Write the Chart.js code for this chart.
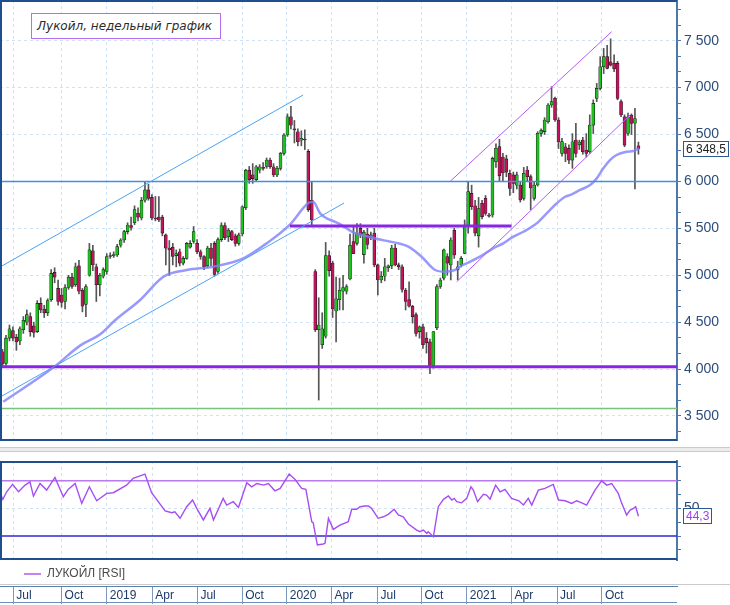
<!DOCTYPE html>
<html lang="ru">
<head>
<meta charset="utf-8">
<title>Лукойл, недельный график</title>
<script src="https://cdn.jsdelivr.net/npm/chart.js@4.4.1/dist/chart.umd.min.js"></script>
<style>
  html, body { margin: 0; padding: 0; background: #fff; }
  #page { position: relative; width: 730px; height: 605px; overflow: hidden; }
  #page > * { position: absolute; }
  #cMain { left: 0; top: 0; }
  #cRsi { left: 0; top: 456px; }
  .sep { left: 0; width: 730px; height: 1px; background: #cbcbcb; }
  #title { left: 31px; top: 13px; width: 183px; height: 24px; padding-left: 5px; border: 1px solid #b56ef0; background: #fff;
           font: italic 12px "DejaVu Sans", sans-serif; line-height: 24px; color: #2b2b2b; white-space: nowrap; }
</style>
</head>
<body>
<div id="page">
  <div class="sep" style="top:447px"></div>
  <div class="sep" style="top:448px;height:3px;background:#ececec"></div>
  <div class="sep" style="top:451px"></div>
  <div class="sep" style="top:584px"></div>
  <div style="left:0;top:602px;width:677px;height:1px;background:#6d8fbb"></div>
  <canvas id="cMain" width="730" height="441"></canvas>
  <canvas id="cRsi" width="730" height="149"></canvas>
  <div id="title">Лукойл, недельный график</div>
</div>
<script>
// weekly candles, index 0 = mid June 2018
const opens = [4185,4060,4330,4410,4340,4300,4420,4500,4560,4460,
  4400,4700,4640,4600,4740,5030,4860,4790,4720,4870,
  4980,4900,5100,4840,4690,5000,5260,5090,4900,4990,
  5040,5200,5210,5216,5320,5376,5465,5530,5560,5660,
  5610,5800,5910,5830,5610,5620,5620,5430,5290,5300,
  5210,5250,5130,5180,5300,5360,5340,5250,5200,5100,
  5290,5340,5040,5380,5530,5410,5465,5420,5340,5440,
  5720,6120,6070,6020,6120,6150,6160,6229,6157,6069,
  6140,6300,6495,6690,6560,6530,6440,6450,6320,5800,
  5040,4420,4260,4350,5210,5130,4620,4740,4830,4830,
  4960,5360,5340,5500,5220,5440,5400,5450,5110,4950,
  4990,5080,5100,5290,5110,5090,4840,4740,4670,4580,
  4400,4450,4330,4290,4040,4440,4880,4970,5200,5110,
  5480,5060,5109,5234,5518,5873,5740,5420,5767,5820,
  5640,5643,6211,6371,6260,6240,6087,6070,5960,5962,
  5820,6122,6051,5820,5962,6513,6531,6637,6815,6886,
  6655,6300,6370,6352,6228,6441,6390,6441,6335,6317,
  6601,6885,6992,7223,7330,7275,7260,7258,6850,6690,
  6512,6708,6620,6380];
const highs = [4210,4360,4470,4450,4370,4450,4560,4630,4600,4500,
  4730,4760,4680,4750,5060,5080,4950,4860,4900,5000,
  5020,5130,5160,4860,4900,5340,5320,5120,5020,5080,
  5230,5240,5250,5330,5390,5480,5560,5620,5740,5720,
  5830,5990,5970,5860,5840,5840,5640,5440,5370,5340,
  5270,5280,5200,5350,5370,5520,5380,5270,5210,5310,
  5340,5360,5400,5560,5560,5500,5480,5440,5450,5740,
  6130,6160,6190,6170,6180,6200,6250,6250,6190,6160,
  6310,6510,6720,6800,6650,6560,6540,6550,6340,6000,
  5060,4760,4600,5350,5260,5150,4980,4970,5000,4900,
  5440,5520,5550,5550,5480,5500,5460,5500,5120,5040,
  5180,5110,5320,5330,5130,5110,4860,4930,4680,4600,
  4460,4480,4390,4320,4400,4900,4970,5280,5230,5400,
  5500,5150,5200,5590,5990,5960,5800,5830,5800,5850,
  5660,6260,6400,6450,6300,6280,6120,6100,6100,6000,
  6150,6160,6070,5990,6530,6560,6680,6830,7010,6900,
  6680,6460,6406,6390,6510,6620,6440,6470,6510,6710,
  6870,7045,7330,7418,7450,7520,7350,7280,6870,6710,
  6730,6720,6780,6420];
const lows = [4030,4040,4300,4300,4200,4260,4380,4470,4350,4340,
  4390,4600,4550,4570,4720,4920,4680,4660,4640,4850,
  4860,4880,4800,4610,4560,4990,5050,4720,4780,4970,
  5010,5180,5190,5200,5300,5350,5440,5480,5540,5580,
  5590,5780,5800,5590,5580,5570,5420,5110,5000,5110,
  5090,5100,5110,5170,5290,5340,5230,5170,5060,5080,
  5100,4990,5020,5360,5380,5360,5370,5310,5320,5420,
  5700,5980,5980,6000,6090,6120,6140,6140,6050,6050,
  6120,6280,6480,6560,6410,6380,6380,6340,5680,5540,
  4400,3670,4220,4330,4990,4550,4290,4630,4630,4800,
  4950,5230,5320,5400,5130,5280,5380,5090,4790,4920,
  4940,5040,5070,5100,5060,4820,4630,4660,4490,4350,
  4330,4220,4170,3950,4010,4420,4860,4950,5000,4950,
  5180,4950,5090,5230,5450,5700,5420,5300,5600,5640,
  5620,5620,6150,6000,6000,6050,5850,5880,5920,5780,
  5800,6000,5700,5800,5950,6480,6500,6620,6790,6640,
  6350,6270,6210,6190,6140,6260,6340,6290,6260,6300,
  6510,6850,6975,7150,7200,7230,7170,6870,6690,6370,
  6490,6500,5920,6290];
const closes = [4054,4330,4430,4330,4290,4430,4520,4580,4400,4390,
  4700,4630,4600,4730,5020,4980,4720,4710,4870,4980,
  4880,5090,4830,4670,4880,5270,5110,4900,5000,5060,
  5200,5210,5220,5305,5376,5465,5536,5510,5700,5620,
  5800,5910,5820,5610,5600,5590,5450,5290,5270,5200,
  5230,5130,5180,5340,5340,5465,5250,5200,5090,5290,
  5180,5010,5380,5530,5400,5480,5380,5340,5430,5730,
  6120,6020,6030,6157,6157,6140,6229,6157,6069,6140,
  6300,6495,6690,6600,6548,6424,6460,6442,5700,5590,
  4420,4470,4430,5210,5050,4640,4750,4840,4870,4880,
  5320,5230,5450,5430,5460,5330,5430,5110,4950,4990,
  5090,5100,5290,5110,5090,4850,4720,4670,4560,4380,
  4450,4260,4280,4040,4400,4880,4950,5270,5130,5376,
  5216,5090,5180,5536,5891,5731,5450,5710,5625,5660,
  5630,6246,6353,6060,6090,6100,5926,5980,6070,5802,
  6087,6051,5930,5962,6513,6547,6655,6815,6850,6655,
  6420,6424,6300,6228,6423,6299,6420,6317,6299,6601,
  6832,6992,7223,7330,7205,7240,7200,6885,6708,6388,
  6690,6619,6670,6348.5];

// moving average (week, price)
const maWeek = [0.2,15.1,22.3,28.1,32.4,39.6,46.3,53.0,60.6,69.3,
  76.0,82.7,88.0,89.4,91.4,93.3,95.7,97.6,100.5,105.3,
  110.1,113.0,116.8,120.6,124.5,127.3,130.2,131.6,134.5,137.4,
  141.2,144.1,147.0,149.9,153.7,156.6,159.5,161.9,163.3,166.2,
  169.1,171.0,172.9,174.8,176.7,179.6,181.5,183.3];
const maVal = [3652,4030,4250,4370,4520,4736,4984,5056,5091,5180,
  5340,5540,5770,5784,5660,5607,5570,5535,5464,5411,
  5369,5348,5305,5198,5056,5038,5056,5091,5144,5198,
  5287,5340,5411,5464,5553,5660,5767,5837,5855,5909,
  5962,6033,6140,6228,6282,6317,6325,6353];

// RSI (week, value)
const rsiWeek = [-0.7,0.1,1.2,2.9,4.6,6.5,7.9,8.9,10.8,12.7,
  15.1,17.5,18.9,20.9,22.8,25.0,27.1,30.0,31.9,35.7,
  37.6,41.0,42.9,46.8,48.7,49.6,51.1,53.0,54.7,55.9,
  57.8,59.7,60.7,63.5,64.5,66.4,67.9,70.3,71.7,73.2,
  75.1,76.5,78.4,79.9,82.5,84.2,86.1,87.3,89.0,89.4,
  90.6,92.3,92.8,93.8,95.2,97.1,99.5,100.5,101.9,102.9,
  104.3,105.3,106.2,108.1,109.6,111.0,112.7,113.9,115.3,116.8,
  119.2,120.1,121.1,122.1,122.5,124.0,125.4,126.9,128.3,129.3,
  130.0,130.7,132.1,133.6,134.8,135.5,136.7,138.4,139.3,140.3,
  141.9,143.2,144.6,146.5,148.6,149.9,151.3,152.3,154.2,156.1,
  158.5,160.0,161.9,163.8,165.2,166.7,168.1,170.5,172.4,173.9,
  175.3,177.2,178.2,179.6,180.6,181.6,182.2,183.0];
const rsiVal = [60.8,56.5,62.0,67.3,62.0,66.8,69.2,58.9,68.0,63.2,
  72.4,58.4,63.7,68.0,53.6,65.6,55.5,60.8,61.3,66.8,
  71.7,74.8,61.3,48.1,46.8,47.5,42.8,51.2,56.0,50.0,
  41.6,50.0,41.6,57.2,52.4,54.8,50.7,68.5,65.6,68.0,
  66.8,68.0,62.7,64.4,74.8,70.9,64.4,63.7,40.3,39.6,
  23.5,24.2,24.7,42.8,34.8,37.9,40.3,49.3,49.3,51.2,
  51.7,51.7,50.0,42.8,43.9,45.7,49.3,45.2,43.9,38.7,
  34.3,33.1,34.3,31.9,33.1,29.5,51.2,56.5,58.9,56.0,
  57.2,54.8,54.0,57.2,65.6,63.2,54.8,60.1,59.6,56.7,
  66.8,62.0,63.7,57.2,55.5,52.4,57.2,52.4,63.2,64.4,
  67.3,56.0,55.5,53.6,55.5,54.0,52.4,63.2,69.9,66.8,
  68.0,60.8,53.6,45.2,48.8,50.0,51.2,44.3];

// time axis
const quarterPos = [3.1,17.0,30.0,43.1,56.1,69.0,81.8,94.7,107.9,120.6,133.6,146.5,159.6,172.5];
const quarterLabels = ['Jul','Oct','2019','Apr','Jul','Oct','2020','Apr','Jul','Oct','2021','Apr','Jul','Oct'];
const priceLabels = [3500,4000,4500,5000,5500,6000,6500,7000,7500];
const rsiTicks = [20,30,40,50,60,70,80];
const rsiLabelled = [50];

// drawn lines (week, price)
const blueUpper = [[-0.7,5088],[86.5,6921]];
const blueLower = [[-0.7,3702],[98.3,5770]];
const violetUpper = [[128.8,6000],[175.3,7596]];
const violetLower = [[130.7,4931],[180.6,6708]];
const resistance = [[82.7,5525],[146.5,5525]];
const levelBlue = 6000, levelSupport = 4025, levelGreen = 3580;
const rsiHigh = 70, rsiLow = 30;

const X_MIN = -0.72, X_MAX = 194.1;
const P_MIN = 3233.5, P_MAX = 7934;
const R_MIN = 12.64, R_MAX = 84.25;

const UP = '#1ec21e', DOWN = '#c2145c';
const GRID = '#cfe2f6', AXIS = '#4e78a8', AXIS_TXT = '#2c4d7c';
Chart.defaults.font.family = '"Liberation Sans", Arial, sans-serif';

function fmt(v, dec) {
  const parts = v.toFixed(dec).split('.');
  parts[0] = parts[0].replace(/\B(?=(\d{3})+(?!\d))/g, ' ');
  return parts.join(',');
}
const flat = v => [[X_MIN, v], [X_MAX, v]];
function seg(points, color, width, order) {
  return { type: 'line', data: points.map(p => ({x: p[0], y: p[1]})), borderColor: color, borderWidth: width,
           pointRadius: 0, fill: false, tension: 0, order: order };
}

// minor ticks every 1/3 of 500
const priceTicks = [];
for (let k = 20; k <= 47; k++) priceTicks.push(k * 500 / 3);

const frame = {
  id: 'frame',
  afterDatasetsDraw(chart) {
    const {ctx, chartArea: a} = chart;
    ctx.save();
    ctx.strokeStyle = '#1e4f8e';
    ctx.lineWidth = 2;
    ctx.beginPath();
    ctx.moveTo(a.right, a.top + 1);
    ctx.lineTo(a.left + 1, a.top + 1);
    ctx.lineTo(a.left + 1, a.bottom - 1);
    ctx.lineTo(a.right, a.bottom - 1);
    ctx.stroke();
    ctx.restore();
  }
};

const lastValue = {
  id: 'lastValue',
  afterDraw(chart, args, o) {
    if (o.value == null) return;
    const ctx = chart.ctx;
    const y = Math.round(chart.scales.y.getPixelForValue(o.value));
    const x = chart.chartArea.right + 6;
    ctx.save();
    ctx.font = '12px "Liberation Sans", Arial, sans-serif';
    const w = Math.round(ctx.measureText(o.text).width) + 5;
    ctx.fillStyle = '#fff';
    ctx.fillRect(x, y - 8, w, 16);
    ctx.strokeStyle = '#2b5a93';
    ctx.lineWidth = 1;
    ctx.strokeRect(x + 0.5, y - 7.5, w, 15);
    ctx.fillStyle = o.color;
    ctx.textBaseline = 'middle';
    ctx.fillText(o.text, x + 3, y + 1);
    ctx.restore();
  }
};

const legendNudge = {
  id: 'legendNudge',
  afterLayout(chart) {
    const l = chart.legend;
    if (l) { l.left += 20; l.right += 20; l.top += 4; l.bottom += 4; }
  }
};

const wickData = highs.map((h, i) => ({x: i, y: [lows[i], h]}));
const bodyData = opens.map((o, i) => ({x: i, y: [o, closes[i]]}));
const bodyColors = opens.map((o, i) => closes[i] >= o ? UP : DOWN);

new Chart(document.getElementById('cMain'), {
  type: 'bar',
  data: {
    datasets: [
      seg(blueUpper, '#4aa3f5', 1, 0),
      seg(blueLower, '#4aa3f5', 1, 0),
      seg(violetUpper, '#b25cf6', 1, 0),
      seg(violetLower, '#b25cf6', 1, 0),
      seg(flat(levelBlue), '#3f8fe6', 1.5, 0),
      seg(flat(levelSupport), '#8a24e6', 3, 0),
      seg(flat(levelGreen), '#79c279', 1.5, 0),
      seg(resistance, '#8a24e6', 3, 0),
      { type: 'line', data: maWeek.map((w, i) => ({x: w, y: maVal[i]})), borderColor: 'rgba(128,128,250,0.8)',
        borderWidth: 2.5, pointRadius: 0, cubicInterpolationMode: 'monotone', fill: false, order: 1 },
      { type: 'bar', data: bodyData, backgroundColor: bodyColors, borderColor: '#1b1b1b', borderWidth: 0.6,
        borderSkipped: false, barThickness: 3, grouped: false, minBarLength: 1, order: 2 },
      { type: 'bar', data: wickData, backgroundColor: '#555', borderWidth: 0, barThickness: 1, grouped: false, order: 3 }
    ]
  },
  options: {
    animation: false,
    responsive: false,
    layout: { padding: 0 },
    plugins: {
      legend: { display: false },
      tooltip: { enabled: false },
      lastValue: { value: closes[closes.length - 1], text: fmt(closes[closes.length - 1], 1), color: '#222' }
    },
    scales: {
      x: {
        type: 'linear', bounds: 'data', min: X_MIN, max: X_MAX, offset: false,
        afterBuildTicks: s => { s.ticks = quarterPos.map(v => ({value: v})); },
        ticks: { display: false },
        grid: { color: GRID, lineWidth: 1, drawTicks: false, offset: false },
        border: { display: false, dash: [3, 3] },
        afterFit: s => { s.height = 0; s.paddingLeft = 0; s.paddingRight = 0; }
      },
      y: {
        position: 'right', bounds: 'data', min: P_MIN, max: P_MAX, beginAtZero: false,
        afterBuildTicks: s => { s.ticks = priceTicks.map(v => ({value: v})); },
        ticks: { autoSkip: false, padding: 3, color: AXIS_TXT, font: { size: 14 },
                 callback: v => priceLabels.includes(v) ? fmt(v, 0) : '' },
        grid: { color: c => (c.tick && priceLabels.includes(c.tick.value)) ? GRID : 'rgba(0,0,0,0)',
                drawTicks: true, tickLength: 4, tickColor: AXIS, tickWidth: 1 },
        border: { display: true, color: AXIS, width: 2, dash: [3, 3] },
        afterFit: s => { s.width = 53; s.paddingTop = 0; s.paddingBottom = 0; }
      }
    }
  },
  plugins: [frame, lastValue]
});

new Chart(document.getElementById('cRsi'), {
  type: 'line',
  data: {
    datasets: [
      { label: 'ЛУКОЙЛ [RSI]', data: rsiWeek.map((w, i) => ({x: w, y: rsiVal[i]})), borderColor: '#a64ef3',
        borderWidth: 1.4, pointRadius: 0, tension: 0, fill: false },
      Object.assign(seg(flat(rsiHigh), '#b87af2', 1.5, 1), { label: 'hi' }),
      Object.assign(seg(flat(rsiLow), '#2a2ad6', 1.5, 1), { label: 'lo' })
    ]
  },
  options: {
    animation: false,
    responsive: false,
    layout: { padding: { top: 5, left: 0, right: 0, bottom: 0 } },
    plugins: {
      legend: {
        position: 'bottom', align: 'start', weight: 0,
        labels: { filter: it => it.datasetIndex === 0, usePointStyle: true, pointStyle: 'line', pointStyleWidth: 17,
                  padding: 4, color: '#4a4a4a', font: { size: 12 } }
      },
      tooltip: { enabled: false },
      lastValue: { value: rsiVal[rsiVal.length - 1], text: fmt(rsiVal[rsiVal.length - 1], 1), color: '#9d3ef0' }
    },
    scales: {
      x: {
        type: 'linear', bounds: 'data', min: X_MIN, max: X_MAX, offset: false, position: 'bottom', weight: 10,
        afterBuildTicks: s => { s.ticks = quarterPos.map(v => ({value: v})); },
        ticks: { autoSkip: false, maxRotation: 0, minRotation: 0, align: 'start', labelOffset: 3, padding: -16,
                 color: '#1b3a6b', font: { size: 12 }, callback: (v, i) => quarterLabels[i] },
        grid: { color: GRID, lineWidth: 1, drawTicks: true, tickLength: 18, tickColor: '#7b98bf', tickWidth: 1,
                tickBorderDash: [], offset: false },
        border: { display: true, color: '#5a80b0', width: 1, dash: [3, 3] },
        afterFit: s => { s.height = 19; s.paddingLeft = 0; s.paddingRight = 0; }
      },
      y: {
        position: 'right', bounds: 'data', min: R_MIN, max: R_MAX, beginAtZero: false,
        afterBuildTicks: s => { s.ticks = rsiTicks.map(v => ({value: v})); },
        ticks: { autoSkip: false, padding: 3, color: AXIS_TXT, font: { size: 14 },
                 callback: v => rsiLabelled.includes(v) ? String(v) : '' },
        grid: { color: c => (c.tick && rsiLabelled.includes(c.tick.value)) ? GRID : 'rgba(0,0,0,0)',
                drawTicks: true, tickLength: 4, tickColor: AXIS, tickWidth: 1 },
        border: { display: true, color: AXIS, width: 2, dash: [3, 3] },
        afterFit: s => { s.width = 53; s.paddingTop = 0; s.paddingBottom = 0; }
      }
    }
  },
  plugins: [frame, lastValue, legendNudge]
});
</script>
</body>
</html>
